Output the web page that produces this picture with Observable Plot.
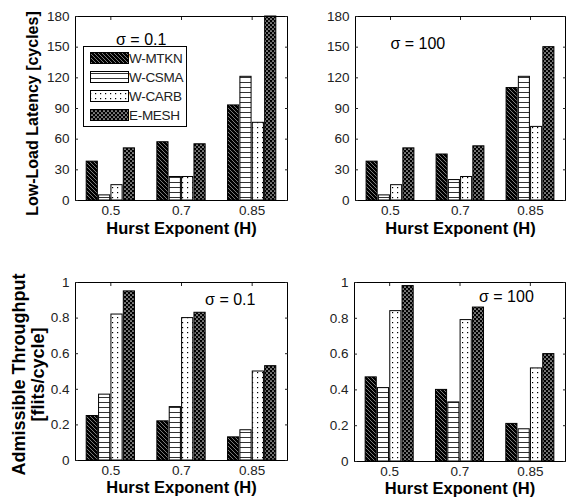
<!DOCTYPE html>
<html><head><meta charset="utf-8">
<script src="https://cdn.jsdelivr.net/npm/d3@7"></script>
<script src="https://cdn.jsdelivr.net/npm/@observablehq/plot@0.6"></script>
<style>
html,body{margin:0;padding:0;background:#fff;}
#wrap{position:relative;width:566px;height:503px;overflow:hidden;font-family:"Liberation Sans",Arial,sans-serif;}
#wrap svg{position:absolute;}
</style></head><body><div id="wrap"></div>
<script>
const hurst = ["0.5", "0.7", "0.85"];
const schemes = ["W-MTKN", "W-CSMA", "W-CARB", "E-MESH"];
// values per scheme (rows) for H = 0.5, 0.7, 0.85
const latencySigma01 = [[38, 57, 93], [5, 23, 121], [15, 23, 76], [51, 55, 180]];
const latencySigma100 = [[38, 45, 110], [5, 20, 121], [15, 23, 72], [51, 53, 150]];
const throughputSigma01 = [[0.25, 0.22, 0.13], [0.37, 0.30, 0.17], [0.82, 0.80, 0.50], [0.95, 0.83, 0.53]];
const throughputSigma100 = [[0.47, 0.40, 0.21], [0.41, 0.33, 0.18], [0.84, 0.79, 0.52], [0.98, 0.86, 0.60]];
const latencyTicks = [0, 30, 60, 90, 120, 150, 180];
const throughputTicks = [0, 0.2, 0.4, 0.6, 0.8, 1];
const sigmaLabels = ["\u03C3 = 0.1", "\u03C3 = 100"];
const xLabel = "Hurst Exponent (H)";
const latencyLabel = "Low-Load Latency [cycles]";
const throughputLabel = "Admissible Throughput\n[flits/cycle]";

const FONT = "'Liberation Sans', Arial, sans-serif";
const wrap = d3.select("#wrap");

// hatch patterns
const defs = wrap.append("svg").attr("width", 0).attr("height", 0).style("left", 0).style("top", 0).append("defs");
function pat(id, w, h) {
  return defs.append("pattern").attr("id", id).attr("patternUnits", "userSpaceOnUse").attr("width", w).attr("height", h);
}
let p = pat("pat0", 4, 4);
p.append("rect").attr("width", 4).attr("height", 4).attr("fill", "#000");
p.append("path").attr("d", "M-1,-1L5,5M-1,3L1,5M3,-1L5,1").attr("stroke", "#9a9a9a").attr("stroke-width", 0.8);
p = pat("pat1", 5, 5);
p.append("rect").attr("width", 5).attr("height", 5).attr("fill", "#fff");
p.append("rect").attr("y", 2).attr("width", 5).attr("height", 1).attr("fill", "#333");
p = pat("pat2", 5, 5);
p.append("rect").attr("width", 5).attr("height", 5).attr("fill", "#fff");
p.append("rect").attr("x", 2).attr("y", 2).attr("width", 1.2).attr("height", 1.2).attr("fill", "#000");
p = pat("pat3", 4, 4);
p.append("rect").attr("width", 4).attr("height", 4).attr("fill", "#000");
p.append("circle").attr("cx", 1).attr("cy", 1).attr("r", 0.85).attr("fill", "#ddd");
p.append("circle").attr("cx", 3).attr("cy", 3).attr("r", 0.85).attr("fill", "#ddd");

function panel(o) {
  const bw = 0.175;
  const marks = [];
  schemes.forEach((s, j) => {
    const rows = hurst.map((h, i) => ({i, v: o.values[j][i]}));
    marks.push(Plot.rectY(rows, {
      x1: d => d.i + 1 - 0.35 + j * bw, x2: d => d.i + 1 - 0.35 + (j + 1) * bw,
      y1: 0, y2: "v", fill: `url(#pat${j})`, stroke: "#000", strokeWidth: 1, insetLeft: 0.6, insetRight: 0.6
    }));
  });
  marks.push(
    Plot.frame({stroke: "#000"}),
    Plot.axisX({ticks: [1, 2, 3], tickFormat: v => hurst[v - 1], tickSize: -3, tickPadding: 8, label: null, fontSize: 13.5}),
    Plot.axisX({anchor: "top", ticks: [1, 2, 3], tickSize: -3, tickFormat: () => "", label: null}),
    Plot.axisY({ticks: o.ticks, tickFormat: d => String(d), tickSize: -3, tickPadding: 9, label: null, fontSize: 13.5}),
    Plot.axisY({anchor: "right", ticks: o.ticks, tickSize: -3, tickFormat: () => "", label: null}),
    Plot.text([xLabel], {frameAnchor: "bottom", dy: o.xlDy, fontWeight: "bold", fontSize: 16.5, fill: "#000"}),
    Plot.text([o.sigma], {x: o.sx, y: o.sy, fontSize: 16, fill: "#000"})
  );
  if (o.yLabel) marks.push(Plot.text([o.yLabel], {frameAnchor: "left", rotate: -90, textAnchor: "middle", dx: o.ylDx, dy: o.ylDy || 0, fontWeight: "bold", fontSize: o.ylSize, lineHeight: 1.08, fill: "#000"}));
  const svg = Plot.plot({
    width: o.width, height: o.height,
    marginLeft: o.mL, marginRight: o.mR, marginTop: o.mT, marginBottom: o.mB,
    style: {fontFamily: FONT, fontSize: "13px", color: "#222", background: "none", overflow: "visible"},
    x: {domain: [0.5, 3.5]},
    y: {domain: o.domain},
    marks
  });
  svg.style.left = o.left + "px";
  svg.style.top = o.top + "px";
  wrap.node().appendChild(svg);
}

panel({values: latencySigma01, domain: [0, 180], ticks: latencyTicks, sigma: sigmaLabels[0], sx: 1.43, sy: 157,
  left: 0, top: 0, width: 290, height: 250, mL: 75, mR: 3, mT: 16, mB: 50, xlDy: 33, yLabel: latencyLabel, ylSize: 16, ylDx: -43, ylDy: 5});
panel({values: latencySigma100, domain: [0, 180], ticks: latencyTicks, sigma: sigmaLabels[1], sx: 1.39, sy: 153,
  left: 280, top: 0, width: 286, height: 250, mL: 75, mR: 1, mT: 16, mB: 50, xlDy: 33});
panel({values: throughputSigma01, domain: [0, 1], ticks: throughputTicks, sigma: sigmaLabels[0], sx: 2.69, sy: 0.905,
  left: 0, top: 250, width: 290, height: 253, mL: 75, mR: 3, mT: 32, mB: 43, xlDy: 32, yLabel: throughputLabel, ylSize: 18, ylDx: -47, ylDy: 3});
panel({values: throughputSigma100, domain: [0, 1], ticks: throughputTicks, sigma: sigmaLabels[1], sx: 2.66, sy: 0.92,
  left: 280, top: 250, width: 286, height: 253, mL: 74, mR: 1, mT: 32, mB: 42, xlDy: 32});

// legend (top-left panel)
const lg = wrap.append("svg").attr("width", 105).attr("height", 82).style("left", "83px").style("top", "46px");
lg.append("rect").attr("x", 0.5).attr("y", 0.5).attr("width", 103).attr("height", 80).attr("fill", "#fff").attr("stroke", "#000");
schemes.forEach((s, j) => {
  const cy = 12 + j * 19;
  lg.append("rect").attr("x", 7.5).attr("y", cy - 5.5).attr("width", 38).attr("height", 11)
    .attr("fill", `url(#pat${j})`).attr("stroke", "#000");
  lg.append("text").attr("x", 46).attr("y", cy).attr("dy", "0.36em").attr("font-size", 13.5)
    .attr("font-family", FONT).attr("fill", "#222").attr("letter-spacing", "-0.3").text(s);
});
</script></body></html>
